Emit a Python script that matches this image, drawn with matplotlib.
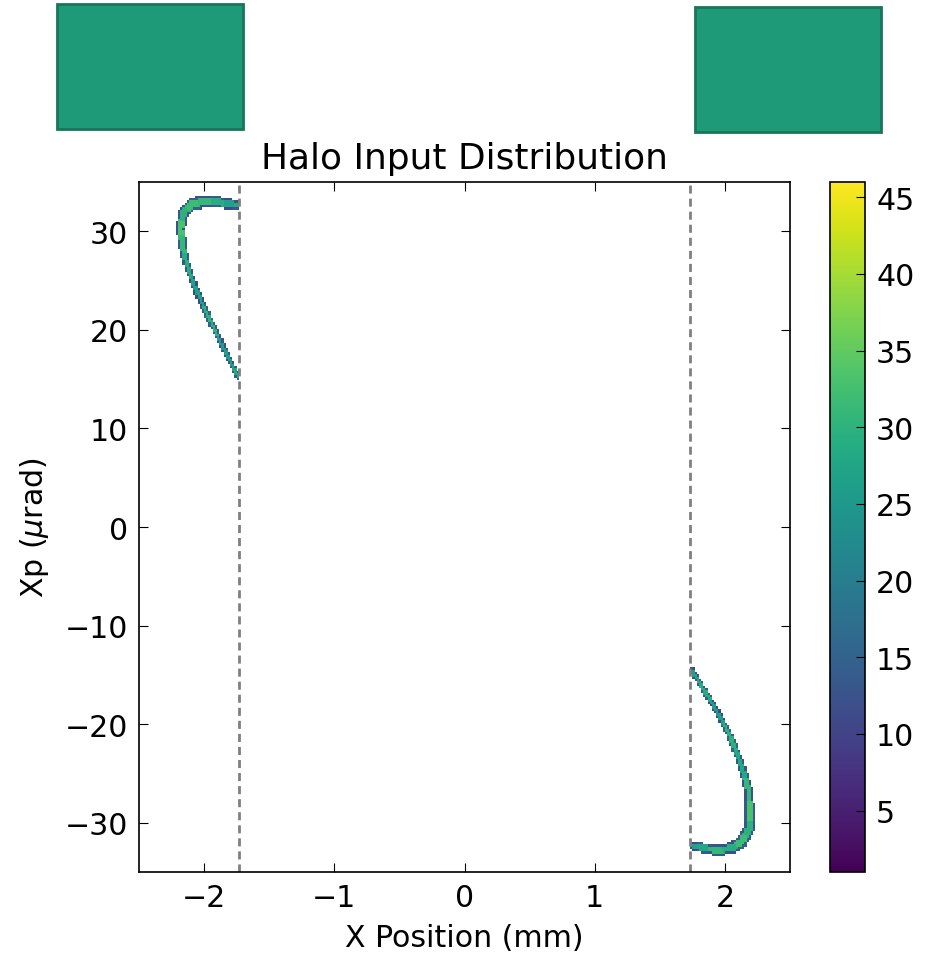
import numpy as np
import matplotlib
matplotlib.use("Agg")
import matplotlib.pyplot as plt
from matplotlib.patches import Rectangle

## Halo input distribution (2D histogram of X vs Xp)

x_lim = (-2.5, 2.5)      # mm
xp_lim = (-35, 35)       # urad
n_bins = 300

cut_left = -1.73         # collimator edges (mm), dashed lines
cut_right = 1.73

# jaws shown in the strip above the plot: x in mm, y in strip fraction
jaw_left_x = (-3.13, -1.70)
jaw_left_y = (0.07, 0.965)
jaw_right_x = (1.77, 3.20)
jaw_right_y = (0.05, 0.945)

# left arc: centreline nodes, tail -> hook end
left_x = [-1.73, -1.83, -1.955, -2.06, -2.135, -2.17, -2.18, -2.16, -2.095, -2.006, -1.903, -1.80, -1.737]
left_xp = [15.1, 17.6, 21.0, 24.0, 26.7, 28.75, 30.4, 31.85, 32.75, 33.0, 32.95, 32.8, 32.6]
left_hw = [2.5, 2.8, 3.0, 3.2, 3.5, 4.0, 4.5, 5.2, 6.0, 6.3, 6.0, 5.0, 4.5]     # half width (px)
left_core = [28, 26, 30, 27, 29, 31, 33, 30, 32, 31, 29, 27, 28]
left_edge = [14, 12, 15, 11, 13, 14, 12, 13, 15, 12, 14, 11, 13]

# right arc: centreline nodes, tail -> hook end
right_x = [1.745, 1.834, 1.937, 2.039, 2.129, 2.180, 2.195, 2.185, 2.129, 2.039, 1.911, 1.822, 1.745]
right_xp = [-14.5, -16.46, -18.65, -21.18, -24.22, -26.58, -28.94, -30.63, -31.97, -32.65, -32.72, -32.55, -32.3]
right_hw = [2.5, 2.8, 3.0, 3.2, 3.8, 4.3, 5.0, 5.5, 5.8, 5.8, 5.5, 4.8, 4.0]
right_core = [27, 29, 26, 30, 28, 31, 33, 30, 32, 29, 31, 28, 27]
right_edge = [12, 14, 11, 15, 13, 12, 14, 13, 15, 12, 13, 14, 11]

cbar_ticks = [5, 10, 15, 20, 25, 30, 35, 40, 45]
c_min, c_max = 1, 46

W, H = 927, 954
ax_box = [139, 183, 790, 873]   # left, top, right, bottom (px)
sx = (ax_box[2] - ax_box[0]) / (x_lim[1] - x_lim[0])
sy = (ax_box[3] - ax_box[1]) / (xp_lim[1] - xp_lim[0])

xe = np.linspace(x_lim[0], x_lim[1], n_bins + 1)
ye = np.linspace(xp_lim[0], xp_lim[1], n_bins + 1)
XC, YC = np.meshgrid(0.5*(xe[1:]+xe[:-1]), 0.5*(ye[1:]+ye[:-1]))
P = np.stack([XC.ravel()*sx, YC.ravel()*sy], axis=1)


def band(xs, ys, hws, core, edge):
    best = np.full(len(P), np.inf)
    val = np.full(len(P), np.nan)
    for i in range(len(xs)-1):
        a = np.array([xs[i]*sx, ys[i]*sy])
        b = np.array([xs[i+1]*sx, ys[i+1]*sy])
        ab = b - a
        t = np.clip(((P - a) @ ab) / (ab @ ab), 0, 1)
        d = np.hypot(*(P - (a + t[:, None]*ab)).T)
        hw = hws[i] + t*(hws[i+1] - hws[i])
        r = d/hw
        node = np.where(t < 0.5, i, i+1)
        v = np.where(r < 0.6, np.array(core)[node], np.array(edge)[node])
        upd = r < best
        best[upd] = r[upd]
        val[upd] = v[upd]
    val[best > 1] = np.nan
    return val.reshape(XC.shape)


Z_left = band(left_x, left_xp, left_hw, left_core, left_edge)
Z_left[XC > cut_left] = np.nan
Z_right = band(right_x, right_xp, right_hw, right_core, right_edge)
Z_right[XC < cut_right] = np.nan
Z = np.where(np.isnan(Z_left), Z_right, Z_left)
Z = np.ma.masked_invalid(Z)

plt.rcParams['font.family'] = 'DejaVu Sans'
fs = 21.6

fig = plt.figure(figsize=(W/100, H/100), dpi=100)
ax = fig.add_axes([ax_box[0]/W, 1-ax_box[3]/H, (ax_box[2]-ax_box[0])/W, (ax_box[3]-ax_box[1])/H])
cax = fig.add_axes([830/W, 1-ax_box[3]/H, 35/W, (ax_box[3]-ax_box[1])/H])
jax = fig.add_axes([ax_box[0]/W, 1-140/H, (ax_box[2]-ax_box[0])/W, 140/H])

mesh = ax.pcolormesh(xe, ye, Z, cmap='viridis', vmin=c_min, vmax=c_max)
for xc in (cut_left, cut_right):
    ax.axvline(xc, color='0.5', lw=2, dashes=(2.9, 1.8))
ax.set_xlim(x_lim)
ax.set_ylim(xp_lim)
ax.set_xticks([-2, -1, 0, 1, 2])
ax.set_yticks([-30, -20, -10, 0, 10, 20, 30])
ax.tick_params(direction='in', top=True, right=True, length=6.5, width=0.8, labelsize=fs, pad=8)
for s in ax.spines.values():
    s.set_linewidth(1.2)
ax.set_title('Halo Input Distribution', fontsize=fs*1.2, pad=10)
ax.set_xlabel('X Position (mm)', fontsize=fs, labelpad=8)
ax.set_ylabel(r'Xp ($\mu$rad)', fontsize=fs, labelpad=10)

cb = fig.colorbar(mesh, cax=cax, ticks=cbar_ticks)
cb.ax.tick_params(direction='in', length=6.5, width=0.8, labelsize=fs, pad=8)
cb.outline.set_linewidth(1.2)

jax.set_xlim(x_lim)
jax.set_ylim(0, 1)
jax.axis('off')
for jx, jy in [(jaw_left_x, jaw_left_y), (jaw_right_x, jaw_right_y)]:
    jax.add_patch(Rectangle((jx[0], jy[0]), jx[1]-jx[0], jy[1]-jy[0],
                            facecolor='#1e9a78', edgecolor='#17755a', lw=2, clip_on=False))

fig.savefig('out.png', dpi=100)
